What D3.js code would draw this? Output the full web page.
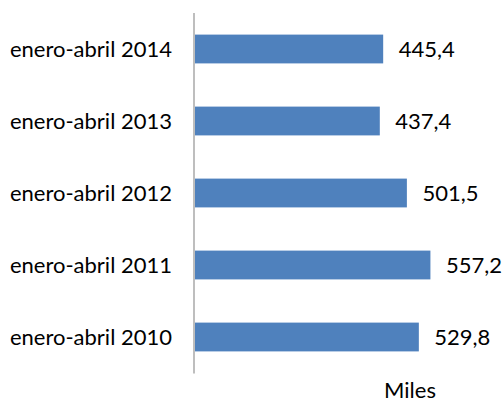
<!DOCTYPE html>
<html><head><meta charset="utf-8">
<script src="https://cdn.jsdelivr.net/npm/d3@7"></script>
<style>html,body{margin:0;padding:0;background:#fff;}svg{display:block;}</style>
</head><body>
<svg id="chart" width="502" height="403"></svg>
<script>
const categories = ["enero-abril 2014","enero-abril 2013","enero-abril 2012","enero-abril 2011","enero-abril 2010"];
const values = [445.4, 437.4, 501.5, 557.2, 529.8];
const valueLabels = ["445,4","437,4","501,5","557,2","529,8"];
const unitLabel = "Miles";

const svg = d3.select("#chart");
const font = "Lato, 'Open Sans', sans-serif";
const x = d3.scaleLinear().domain([0, 600]).range([195, 448.5]);
const y = d3.scaleBand().domain(categories).range([13, 373]).paddingInner(0.6).paddingOuter(0.3);

svg.selectAll("rect.bar").data(values).join("rect")
  .attr("class","bar")
  .attr("x", x(0))
  .attr("y", (d,i) => y(categories[i]))
  .attr("width", d => x(d) - x(0))
  .attr("height", y.bandwidth())
  .attr("fill", "#4F81BD");

// axis line
svg.append("line").attr("x1",194).attr("x2",194).attr("y1",13).attr("y2",373.5)
  .attr("stroke","#BEBEBE").attr("stroke-width",2);

svg.selectAll("text.cat").data(categories).join("text")
  .attr("class","cat")
  .attr("x", 172)
  .attr("y", d => y(d) + y.bandwidth()/2 + 7.5)
  .attr("text-anchor","end")
  .style("font-family", font).style("font-size","22px").attr("fill","#000")
  .text(d => d);

svg.selectAll("text.val").data(values).join("text")
  .attr("class","val")
  .attr("x", d => x(d) + 15.5)
  .attr("y", (d,i) => y(categories[i]) + y.bandwidth()/2 + 8)
  .style("font-family", font).style("font-size","22px").attr("fill","#000")
  .text((d,i) => valueLabels[i]);

svg.append("text").attr("x", 410).attr("y", 398).attr("text-anchor","middle")
  .style("font-family", font).style("font-size","22px").attr("fill","#000")
  .text(unitLabel);
</script>
</body></html>
